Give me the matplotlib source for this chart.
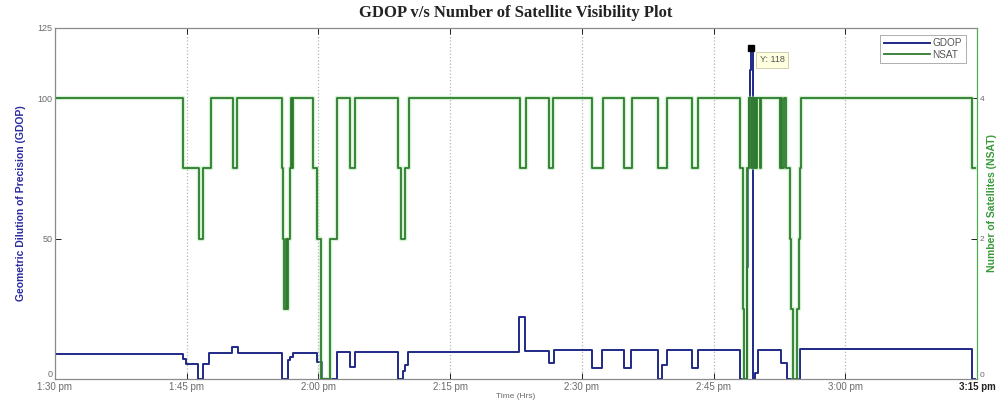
import matplotlib

matplotlib.use("Agg")
import matplotlib.pyplot as plt

# time axis is minutes after 1:30 pm; each value holds until the next time
nsat_t = [0.0, 14.58, 16.40, 16.85, 17.77, 20.27, 20.73, 25.85, 25.97, 26.08,
          26.31, 26.42, 26.53, 26.76, 26.88, 26.99, 27.10, 29.38, 29.84, 30.29,
          31.32, 32.11, 33.60, 34.16, 39.06, 39.40, 39.86, 40.31, 52.96, 53.64,
          56.26, 56.71, 61.16, 62.41, 64.80, 65.71, 68.67, 69.70, 72.54, 73.23,
          78.01, 78.35, 78.47, 78.81, 79.03, 79.26, 79.38, 79.61, 79.72, 79.83,
          79.95, 80.29, 80.40, 80.52, 82.56, 82.68, 82.79, 83.02, 83.25, 83.70,
          83.82, 84.05, 84.50, 84.73, 84.84, 84.96, 104.43, 104.77]
nsat = [4, 3, 2, 3, 4, 3, 4, 3, 2, 1,
        2, 1, 2, 3, 4, 3, 4, 3, 2, 0,
        2, 4, 3, 4, 3, 2, 3, 4, 3, 4,
        3, 4, 3, 4, 3, 4, 3, 4, 3, 4,
        3, 1, 0, 3, 4, 3, 4, 3, 4, 3,
        4, 3, 4, 4, 3, 4, 3, 4, 3, 2,
        1, 0, 1, 2, 3, 4, 3, 3]

gdop_t = [0.0, 14.58, 14.92, 16.29, 16.85, 17.54, 20.16, 20.84, 25.85, 26.53,
          26.76, 27.10, 29.84, 30.41, 32.11, 33.60, 34.16, 39.06, 39.63, 39.86,
          40.20, 52.84, 53.53, 56.26, 56.83, 61.16, 62.30, 64.80, 65.60, 68.67,
          69.13, 69.70, 72.54, 73.23, 78.01, 78.81, 78.93, 79.04, 79.15, 79.26,
          79.49, 79.72, 80.06, 82.68, 83.37, 84.84, 104.43, 104.77]
gdop = [9.0, 7.0, 5.5, 0.0, 5.5, 9.2, 11.5, 9.2, 0.0, 6.7,
        8.0, 9.2, 6.2, 0.0, 9.5, 4.4, 9.5, 0.0, 3.0, 5.0,
        9.5, 22.0, 10.0, 5.6, 10.3, 3.8, 10.3, 3.8, 10.3, 0.0,
        5.1, 10.3, 3.8, 10.3, 0.0, 40.0, 75.0, 100.0, 110.0, 118.0,
        0.0, 2.0, 10.3, 5.6, 0.0, 10.5, 0.0, 0.0]

x_ticks = [0, 15, 30, 45, 60, 75, 90, 105]
x_labels = ["1:30 pm", "1:45 pm", "2:00 pm", "2:15 pm", "2:30 pm",
            "2:45 pm", "3:00 pm", "3:15 pm"]
gdop_ticks = [0, 50, 100, 125]
nsat_ticks = [0, 2, 4]
peak_t, peak_gdop = 79.26, 118

BLUE = "#1f2a86"
GREEN = "#2f7a2f"
GREY = "#6a6a6a"

fig = plt.figure(figsize=(9.99, 4.03), dpi=100)
ax = fig.add_axes([0.055, 0.0596, 0.923, 0.871])
ax2 = ax.twinx()

l1, = ax.plot(gdop_t, gdop, drawstyle="steps-post", color=BLUE, lw=1.4,
              label="GDOP")
ax2.plot(nsat_t, nsat, drawstyle="steps-post", color="#9ee09e", lw=3.2,
         alpha=0.45)
l2, = ax2.plot(nsat_t, nsat, drawstyle="steps-post", color=GREEN, lw=1.3,
               label="NSAT")

ax.set_xlim(0, 105)
ax.set_ylim(0, 125)
ax2.set_ylim(0, 5)
ax.set_xticks(x_ticks)
ax.set_xticklabels(x_labels, fontsize=7, color=GREY, family="Liberation Sans")
ax.get_xticklabels()[-1].set_fontweight("bold")
ax.get_xticklabels()[-1].set_color("#222222")
ax.set_yticks(gdop_ticks)
ax.set_yticklabels([str(v) for v in gdop_ticks], fontsize=6.5, color=GREY,
                   family="Liberation Sans")
ax.get_yticklabels()[0].set_va("bottom")
ax2.set_yticks(nsat_ticks)
ax2.set_yticklabels([str(v) for v in nsat_ticks], fontsize=6, color=GREY,
                    family="Liberation Sans")
ax2.get_yticklabels()[0].set_va("bottom")

ax.tick_params(direction="in", top=True, length=4, width=0.6, pad=2)
ax2.tick_params(direction="in", length=4, width=0.6, pad=2)
ax.xaxis.grid(True, linestyle=":", color="#b5b5b5", lw=0.9)

for name in ["left", "top", "bottom"]:
    ax.spines[name].set_color("#8a8a8a")
    ax2.spines[name].set_color("#8a8a8a")
ax2.spines["right"].set_color("#4caf4c")
ax.spines["right"].set_color("#4caf4c")

ax.set_title("GDOP v/s Number of Satellite Visibility Plot", fontsize=12,
             fontweight="bold", family="Liberation Serif", color="#222222",
             pad=8)
ax.set_xlabel("Time (Hrs)", fontsize=6, color=GREY, family="Liberation Sans",
              labelpad=1)
ax.set_ylabel("Geometric Dilution of Precision (GDOP)", fontsize=7.5,
              fontweight="bold", color="#2a2aa0", family="Liberation Sans",
              labelpad=8)
ax2.set_ylabel("Number of Satellites (NSAT)", fontsize=7.5, fontweight="bold",
               color="#3a9a3a", family="Liberation Sans", labelpad=2)

# data tip at the GDOP peak
ax2.set_zorder(ax.get_zorder() + 1)
ax.patch.set_visible(True)
ax2.patch.set_visible(False)
tip_y = peak_gdop / 125 * 5
ax2.plot([peak_t], [tip_y], marker="s", color="black", ms=4, zorder=5)
ax2.annotate(f"Y: {peak_gdop}", xy=(peak_t, tip_y), xytext=(9, -12),
             textcoords="offset pixels", fontsize=6.5, color="#555555",
             va="center", ha="left", family="Liberation Sans",
             bbox=dict(boxstyle="square,pad=0.4", fc="#ffffe0",
                       ec="#c9c9a8", lw=0.6), zorder=6)

leg = ax2.legend([l1, l2], ["GDOP", "NSAT"], loc="upper right",
                 frameon=True, fancybox=False,
                 handlelength=4.6, borderpad=0.35, labelspacing=0.15,
                 handletextpad=0.3, bbox_to_anchor=(0.993, 0.995),
                 prop={"family": "Liberation Sans", "size": 7.2})
leg.get_frame().set_edgecolor("#8a8a8a")
leg.get_frame().set_linewidth(0.6)
for t in leg.get_texts():
    t.set_color("#555555")

fig.savefig("out.png", dpi=100)
